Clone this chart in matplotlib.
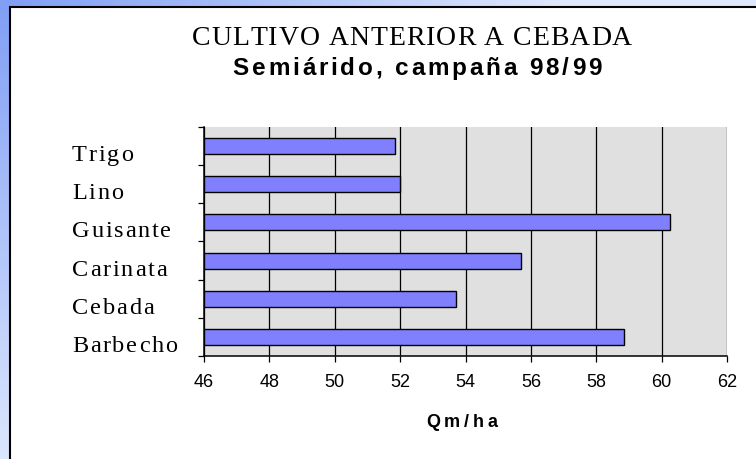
import numpy as np
import matplotlib
matplotlib.use("Agg")
import matplotlib.pyplot as plt
from matplotlib.patches import Rectangle
from matplotlib.font_manager import FontProperties, findfont, get_font

categories = ["Trigo", "Lino", "Guisante", "Carinata", "Cebada", "Barbecho"]
values = [51.85, 52.0, 60.25, 55.7, 53.7, 58.85]
x_ticks = [46, 48, 50, 52, 54, 56, 58, 60, 62]
title = "CULTIVO ANTERIOR A CEBADA"
subtitle = "Semiárido, campaña 98/99"
x_label = "Qm/ha"

W, H = 756, 459
fig = plt.figure(figsize=(W / 100, H / 100), dpi=100)


def advances(s, fp):
    font = get_font(findfont(fp))
    font.set_size(fp.get_size_in_points(), fig.dpi)
    return [font.load_char(ord(ch)).linearHoriAdvance / 65536 for ch in s]


def spaced_text(x, y, s, fp, track=0.0, width=None, ha="center"):
    # x, y in pixels from the top-left corner, y is the baseline
    adv = advances(s, fp)
    if width is not None:
        track = (width - sum(adv)) / (len(s) - 1)
    total = sum(adv) + track * (len(s) - 1)
    x0 = x - total / 2 if ha == "center" else x
    for ch, a in zip(s, adv):
        fig.text(x0 / W, 1 - y / H, ch, fontproperties=fp,
                 ha="left", va="baseline", color="black")
        x0 += a + track


# background gradient + white panel
bg = fig.add_axes([0, 0, 1, 1], zorder=-10)
yy, xx = np.mgrid[0:H, 0:W]
t = np.clip(np.sqrt(xx ** 2 + (yy * 1.2) ** 2) / 560, 0, 1)[..., None]
dark = np.array([0.50, 0.62, 0.96])
light = np.array([0.87, 0.91, 0.99])
bg.imshow(dark + (light - dark) * t, extent=[0, W, H, 0], aspect="auto")
bg.add_patch(Rectangle((10, 7), W + 20, H + 20, facecolor="white",
                       edgecolor="black", linewidth=1.5))
bg.set_xlim(0, W)
bg.set_ylim(H, 0)
bg.axis("off")

# main plot
ax = fig.add_axes([204 / W, 1 - 356 / H, 523 / W, 229 / H])
ax.set_facecolor("#e0e0e0")
pos = np.arange(len(categories))
ax.barh(pos, [v - x_ticks[0] for v in values], left=x_ticks[0], height=0.42,
        color="#8080ff", edgecolor="black", linewidth=1.0, zorder=3)
ax.set_xlim(x_ticks[0], x_ticks[-1])
ax.set_ylim(len(categories) - 0.5, -0.5)
ax.set_xticks(x_ticks)
ax.set_xticklabels([str(v) for v in x_ticks], family="Liberation Sans", fontsize=13)
ax.set_yticks(np.arange(-0.5, len(categories), 1.0))
ax.set_yticklabels([])
ax.grid(axis="x", color="black", linewidth=0.9, zorder=1)
ax.set_axisbelow(True)
ax.tick_params(axis="x", direction="out", length=4, width=0.9, pad=9)
ax.tick_params(axis="y", direction="out", length=4, width=0.9)
for side in ["top", "right"]:
    ax.spines[side].set_visible(False)
for side in ["left", "bottom"]:
    ax.spines[side].set_linewidth(1.1)

# texts
fp_title = FontProperties(family="Liberation Serif", size=20)
fp_sub = FontProperties(family="Liberation Sans", size=17.5, weight="bold")
fp_lab = FontProperties(family="Liberation Serif", size=17.5)
fp_x = FontProperties(family="Liberation Sans", size=13, weight="bold")

spaced_text(412, 45, title, fp_title, width=440)
spaced_text(417, 75, subtitle, fp_sub, width=369)
spaced_text(462, 427, x_label, fp_x, width=71)

for i, name in enumerate(categories):
    y_disp = ax.transData.transform((x_ticks[0], i))[1]
    spaced_text(72, (H - y_disp) + 15, name, fp_lab, track=1.8, ha="left")

fig.savefig("out.png", dpi=100)
